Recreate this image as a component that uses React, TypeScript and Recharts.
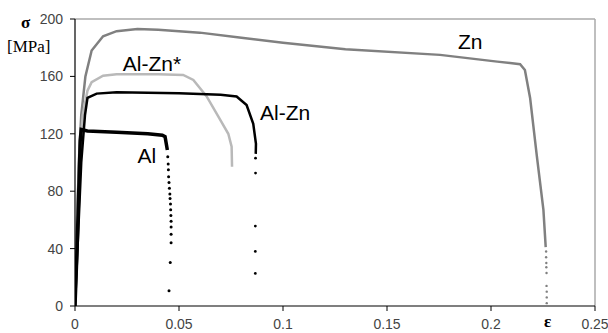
import React from 'react';
import { ComposedChart, Line, Scatter, XAxis, YAxis, ReferenceDot, ReferenceLine } from 'recharts';

// strain / stress pairs
const zn: [number, number][] = [
  [0, 0], [0.001, 60], [0.002, 105], [0.003, 133], [0.005, 160], [0.008, 178], [0.0135, 188],
  [0.02, 191.5], [0.03, 193], [0.04, 192.5], [0.06, 190.5], [0.08, 187], [0.1, 183.5],
  [0.13, 179], [0.1755, 175], [0.203, 170.3], [0.214, 168.5], [0.2163, 164.5], [0.2188, 145],
  [0.222, 105], [0.2252, 67], [0.2263, 41],
];
const znTail: [number, number][] = [
  [0.2265, 38], [0.2265, 34], [0.2266, 30], [0.2266, 27], [0.2267, 23], [0.2267, 14],
  [0.2268, 10], [0.2268, 6], [0.2268, 2],
];

const alZnStar: [number, number][] = [
  [0, 0], [0.001, 60], [0.002, 100], [0.0037, 133], [0.006, 150], [0.008, 156], [0.0135, 160.5],
  [0.02, 161.5], [0.04, 161.5], [0.052, 161], [0.0569, 157.5], [0.0633, 146], [0.0697, 130],
  [0.0737, 120], [0.0753, 111], [0.0755, 97],
];

const alZn: [number, number][] = [
  [0, 0], [0.0015, 50], [0.003, 100], [0.0048, 133], [0.006, 145], [0.0104, 148], [0.02, 149],
  [0.05, 148.2], [0.07, 147.2], [0.0777, 146], [0.0825, 140], [0.0857, 127], [0.087, 113],
  [0.0869, 106],
];
const alZnTail: [number, number][] = [
  [0.0868, 103], [0.0868, 92.6], [0.0867, 55.7], [0.0867, 38], [0.0867, 22.7],
];

const al: [number, number][] = [
  [0, 0], [0.001, 40], [0.002, 90], [0.0025, 115], [0.003, 123], [0.006, 122], [0.02, 121],
  [0.035, 120], [0.042, 119], [0.0433, 118], [0.0444, 108.7],
];
const alTail: [number, number][] = [
  [0.0446, 104], [0.0448, 99], [0.0449, 95], [0.045, 90], [0.0452, 86], [0.0454, 82],
  [0.0456, 78], [0.0457, 75], [0.0459, 71], [0.046, 67], [0.0461, 63], [0.0462, 59],
  [0.0462, 55], [0.0462, 50], [0.0462, 44], [0.0458, 30.4], [0.0452, 10.7],
];

const xTicks = [0, 0.05, 0.1, 0.15, 0.2, 0.25];
const yTicks = [0, 40, 80, 120, 160, 200];

const curveLabels: { name: string; x: number; y: number }[] = [
  { name: 'Zn', x: 0.19, y: 184 },
  { name: 'Al-Zn*', x: 0.037, y: 169 },
  { name: 'Al-Zn', x: 0.101, y: 134.5 },
  { name: 'Al', x: 0.0346, y: 105 },
];

const toPoints = (arr: [number, number][]) => arr.map(([x, y]) => ({ x, y }));

const sans = '"Liberation Sans", Arial, sans-serif';
const serif = '"Liberation Serif", "Times New Roman", serif';

const dot = (color: string, r: number) => (props: any) =>
  <circle cx={props.cx} cy={props.cy} r={r} fill={color} />;

export default function App() {
  const tick = { fill: '#444', fontSize: 14, fontFamily: sans };
  return (
    <div style={{ position: 'absolute', left: 0, top: 0, width: 608, height: 333, background: '#fff' }}>
      <ComposedChart width={608} height={333} margin={{ top: 19, right: 13, left: 0, bottom: 0 }}>
        <XAxis
          type="number"
          dataKey="x"
          domain={[0, 0.25]}
          ticks={xTicks}
          allowDataOverflow
          height={27}
          tickSize={5}
          tickMargin={8}
          tick={tick}
          axisLine={{ stroke: '#000', strokeWidth: 1.2 }}
          tickLine={{ stroke: '#000' }}
        />
        <YAxis
          type="number"
          domain={[0, 200]}
          ticks={yTicks}
          allowDataOverflow
          width={75}
          tickSize={5}
          tickMargin={7}
          tick={tick}
          axisLine={{ stroke: '#000', strokeWidth: 1.2 }}
          tickLine={{ stroke: '#000' }}
        />
        <ReferenceLine y={200} stroke="#aaa" strokeWidth={1.5} />
        <ReferenceLine x={0.25} stroke="#aaa" strokeWidth={1.5} />

        <Line data={toPoints(zn)} dataKey="y" stroke="#808080" strokeWidth={2.5} dot={false} isAnimationActive={false} />
        <Scatter data={toPoints(znTail)} dataKey="y" shape={dot('#808080', 1.2)} isAnimationActive={false} />

        <Line data={toPoints(alZnStar)} dataKey="y" stroke="#b9b9b9" strokeWidth={2.5} dot={false} isAnimationActive={false} />

        <Line data={toPoints(alZn)} dataKey="y" stroke="#000" strokeWidth={2.5} dot={false} isAnimationActive={false} />
        <Scatter data={toPoints(alZnTail)} dataKey="y" shape={dot('#000', 1.4)} isAnimationActive={false} />

        <Line data={toPoints(al)} dataKey="y" stroke="#000" strokeWidth={3.5} dot={false} isAnimationActive={false} />
        <Scatter data={toPoints(alTail)} dataKey="y" shape={dot('#000', 1.5)} isAnimationActive={false} />

        {curveLabels.map((c) => (
          <ReferenceDot
            key={c.name}
            x={c.x}
            y={c.y}
            r={0}
            fill="none"
            stroke="none"
            label={{ value: c.name, position: 'center', fontSize: 21, fill: '#000', fontFamily: sans }}
          />
        ))}
      </ComposedChart>
      <div style={{ position: 'absolute', left: 21, top: 13, font: `bold 17px ${serif}`, color: '#000' }}>σ</div>
      <div style={{ position: 'absolute', left: 7, top: 37, font: `17px ${serif}`, color: '#000' }}>[MPa]</div>
      <div style={{ position: 'absolute', left: 544, top: 312, font: `bold 17px ${serif}`, color: '#000' }}>ε</div>
    </div>
  );
}
